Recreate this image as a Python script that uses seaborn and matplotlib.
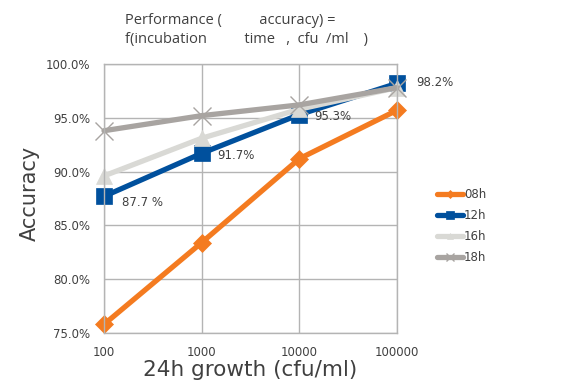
import matplotlib
matplotlib.use("Agg")
import matplotlib.pyplot as plt
import seaborn as sns
import pandas as pd
from matplotlib.ticker import FixedLocator, FixedFormatter

# Growth levels (cfu/ml) and accuracy per incubation time
growth = [100, 1000, 10000, 100000]
growth_labels = ["100", "1000", "10000", "100000"]
acc_08h = [75.8, 83.4, 91.2, 95.7]
acc_12h = [87.7, 91.7, 95.3, 98.2]
acc_16h = [89.6, 93.1, 95.8, 97.8]
acc_18h = [93.8, 95.2, 96.2, 97.8]
series_names = ["08h", "12h", "16h", "18h"]
label_texts = ["87.7 %", "91.7%", "95.3%", "98.2%"]
y_ticks = [75, 80, 85, 90, 95, 100]

colors = ["#F47B20", "#00509D", "#D9D9D5", "#A8A4A1"]
markers = ["D", "s", "^", "x"]
msizes = [9, 12, 11, 13]

sns.set_theme(style="white")
plt.rcParams["font.family"] = ["DejaVu Sans"]

df = pd.DataFrame({
    "growth": growth * 4,
    "acc": acc_08h + acc_12h + acc_16h + acc_18h,
    "time": [s for s in series_names for _ in growth],
})

fig = plt.figure(figsize=(5.82, 3.9), dpi=100)
ax = fig.add_axes([104 / 582, 1 - 333 / 390, (397 - 104) / 582, (333 - 64) / 390])

for name, col, mk, ms in zip(series_names, colors, markers, msizes):
    sub = df[df["time"] == name]
    sns.lineplot(data=sub, x="growth", y="acc", ax=ax, color=col, lw=3.8,
                 marker=mk, markersize=ms, markeredgecolor=col,
                 markeredgewidth=(1.0 if mk == "x" else 0.5), label=name,
                 legend=False, clip_on=False)

ax.set_xscale("log")
ax.set_xlim(100, 100000)
ax.set_ylim(75, 100)
ax.xaxis.set_major_locator(FixedLocator(growth))
ax.xaxis.set_major_formatter(FixedFormatter(growth_labels))
ax.xaxis.set_minor_locator(FixedLocator([]))
ax.set_yticks(y_ticks)
ax.set_yticklabels([f"{v:.1f}%" for v in y_ticks])
ax.grid(True, color="#B4B4B4", lw=1)
for sp in ax.spines.values():
    sp.set_color("#B4B4B4")
    sp.set_linewidth(1)
ax.tick_params(axis="both", length=0, labelsize=8.5, colors="#404040")
ax.tick_params(axis="x", pad=9)
ax.tick_params(axis="y", pad=10)

# Value labels for the 12h series
offsets = [(18, -6), (16, -2), (15, -2), (19, 1)]
for x, y, t, (dx, dy) in zip(growth, acc_12h, label_texts, offsets):
    ax.annotate(t, (x, y), xytext=(dx, dy), textcoords="offset pixels",
                ha="left", va="center", fontsize=8.5, color="#404040")

ax.set_xlabel("24h growth (cfu/ml)", fontsize=15.5, color="#404040", labelpad=1)
ax.set_ylabel("Accuracy", fontsize=15, color="#404040", labelpad=8)
ax.yaxis.set_label_coords(-0.218, 0.52)

title_font = ["Open Sans", "DejaVu Sans"]
fig.text(125 / 582, 1 - 20 / 390, "Performance (          accuracy) =",
         fontsize=10.5, family=title_font, color="#404040", va="center")
fig.text(125 / 582, 1 - 40 / 390, "f(incubation          time   ,  cfu  /ml    )",
         fontsize=10.5, family=title_font, color="#404040", va="center")

handles, labels = ax.get_legend_handles_labels()
leg = fig.legend(handles, labels, loc="upper left", bbox_to_anchor=(432 / 582, 1 - 183 / 390),
                 frameon=False, fontsize=8.5, handlelength=2.2, handletextpad=0.1,
                 labelspacing=0.68, markerscale=0.45, borderaxespad=0)
for t in leg.get_texts():
    t.set_color("#404040")

fig.savefig("out.png", dpi=100)
